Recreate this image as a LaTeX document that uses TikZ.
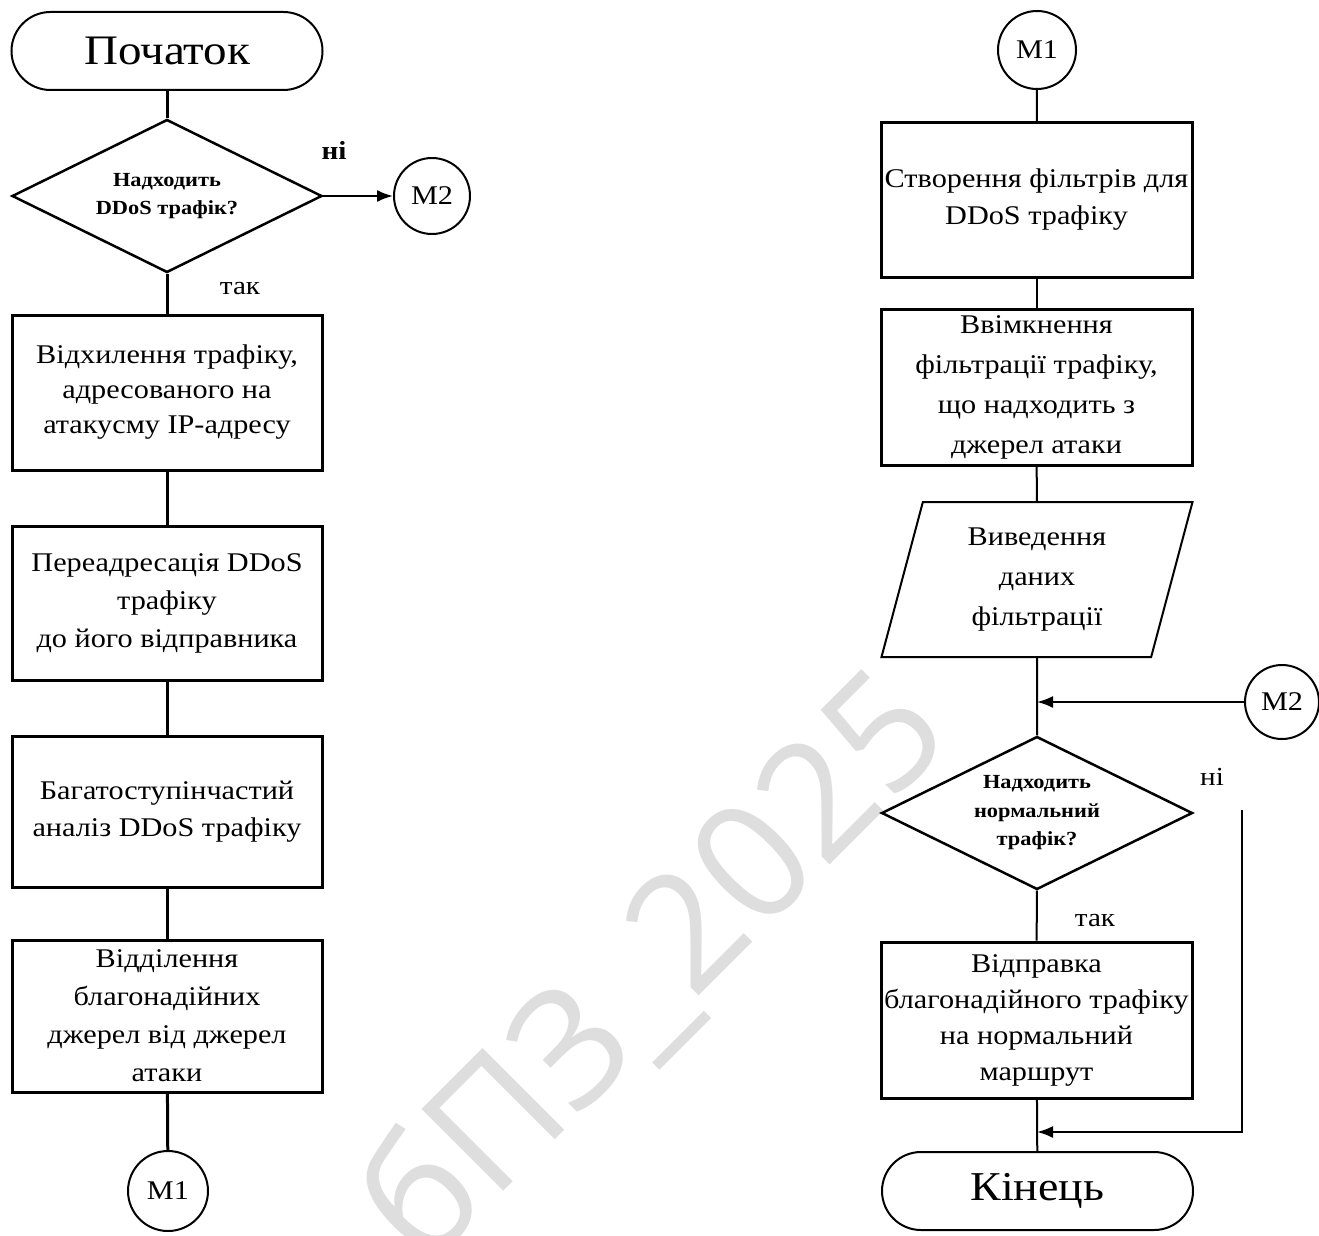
\documentclass[tikz,border=0pt]{standalone}
\usepackage{fontspec}
\setmainfont{Liberation Serif}[FakeStretch=1.12]
\newfontfamily\wmfont{Open Sans}
\usetikzlibrary{shapes.geometric,arrows.meta,calc}
\begin{document}
\begin{tikzpicture}[x=1pt,y=-1pt,
  box/.style={draw, line width=3pt, rectangle, minimum width=310pt, align=center, inner sep=0pt,
    font=\fontsize{27}{37}\selectfont},
  term/.style={draw, line width=2pt, rectangle, rounded corners=39pt, minimum width=311pt, minimum height=78pt,
    inner sep=0pt, font=\fontsize{42}{48}\selectfont},
  dec/.style={draw, line width=2.5pt, diamond, minimum width=310pt, minimum height=153pt, inner sep=0pt},
  dectext/.style={align=center, inner sep=0pt, font=\bfseries\fontsize{20}{28}\selectfont},
  conn/.style={draw, line width=2pt, circle, minimum size=76pt, inner sep=0pt, font=\fontsize{27}{30}\selectfont},
  lineL/.style={line width=3pt},
  lineR/.style={line width=2pt},
  tip/.style={-{Latex[length=16pt,width=12pt]}},
  lbl/.style={font=\fontsize{26}{28}\selectfont, inner sep=0pt},
]
\useasboundingbox (0,0) rectangle (1319,1236);
\fill[white] (0,0) rectangle (1319,1236);
% watermark
\node[text=black!13, rotate=45, font=\wmfont\fontsize{162}{170}\selectfont, inner sep=0pt] (wm) at (655,970) {бПЗ\_2025};

% left column
\node[term] (start) at (167,51) {Початок};
\node[dec, label={[dectext]center:Надходить\\DDoS трафік?}] (d1) at (167,196) {};
\node[conn] (m2a) at (432,196) {M2};
\node[box, minimum height=155pt, font=\fontsize{27}{35}\selectfont] (b1) at (167,392.5) {Відхилення трафіку,\\адресованого на\\атакусму IP-адресу};
\node[box, minimum height=154pt, font=\fontsize{27}{38}\selectfont] (b2) at (167,603) {Переадресація DDoS\\трафіку\\до його відправника};
\node[box, minimum height=151pt] (b3) at (167,811.5) {Багатоступінчастий\\аналіз DDoS трафіку};
\node[box, minimum height=152pt, font=\fontsize{27}{38}\selectfont] (b4) at (167,1016) {Відділення\\благонадійних\\джерел від джерел\\атаки};
\node[conn, minimum size=80pt] (m1a) at (168,1191) {M1};
\node[lbl, font=\bfseries\fontsize{26}{28}\selectfont] (noL) at (334,150) {ні};
\node[lbl] (yesL) at (240,289) {так};

\draw[lineL] (start) -- (d1);
\draw[lineL] (d1) -- (b1);
\draw[lineL] (b1) -- (b2);
\draw[lineL] (b2) -- (b3);
\draw[lineL] (b3) -- (b4);
\draw[lineL] (b4) -- (m1a);
\draw[lineR, tip] (d1.east) -- (m2a.west);

% right column
\node[conn, minimum size=78pt] (m1b) at (1037,50) {M1};
\node[box, minimum height=154pt, minimum width=311pt] (r1) at (1036.5,200) {Створення фільтрів для\\DDoS трафіку};
\node[box, minimum height=156pt, minimum width=311pt, font=\fontsize{27}{40}\selectfont] (r2) at (1036.5,387) {Ввімкнення\\фільтрації трафіку,\\що надходить з\\джерел атаки};
\node[draw, line width=2pt, trapezium, trapezium left angle=68.2, trapezium right angle=111.8,
  trapezium stretches body, minimum width=311pt, minimum height=155pt, inner sep=0pt,
  align=center, font=\fontsize{27}{40}\selectfont] (par) at (1037,579.5) {Виведення\\даних\\фільтрації};
\node[conn, minimum size=74pt] (m2b) at (1282,702) {M2};
\node[dec, minimum width=311pt, label={[dectext, font=\bfseries\fontsize{20}{28.5}\selectfont]center:Надходить\\нормальний\\трафік?}] (d2) at (1037,813) {};
\node[box, minimum height=156pt, minimum width=311pt, font=\fontsize{27}{36}\selectfont] (r3) at (1036.5,1020) {Відправка\\благонадійного трафіку\\на нормальний\\маршрут};
\node[term, font=\fontsize{41}{48}\selectfont] (fin) at (1037.5,1191) {Кінець};
\node[lbl] (noR) at (1212,777) {ні};
\node[lbl] (yesR) at (1095,921) {так};

\coordinate (j1) at (1037,702);
\coordinate (j2) at (1037,1132);
\coordinate (n0) at (1242,810);

\draw[lineR] (m1b) -- (r1);
\draw[lineR] (r1) -- (r2);
\draw[lineR] (r2) -- (par);
\draw[lineR] (par) -- (d2);
\draw[lineR, tip] (m2b.west) -- (j1);
\draw[lineR] (d2) -- (r3);
\draw[lineR] (r3) -- (fin);
\draw[lineR, tip] (n0) -- (n0 |- j2) -- (j2);
\end{tikzpicture}
\end{document}
